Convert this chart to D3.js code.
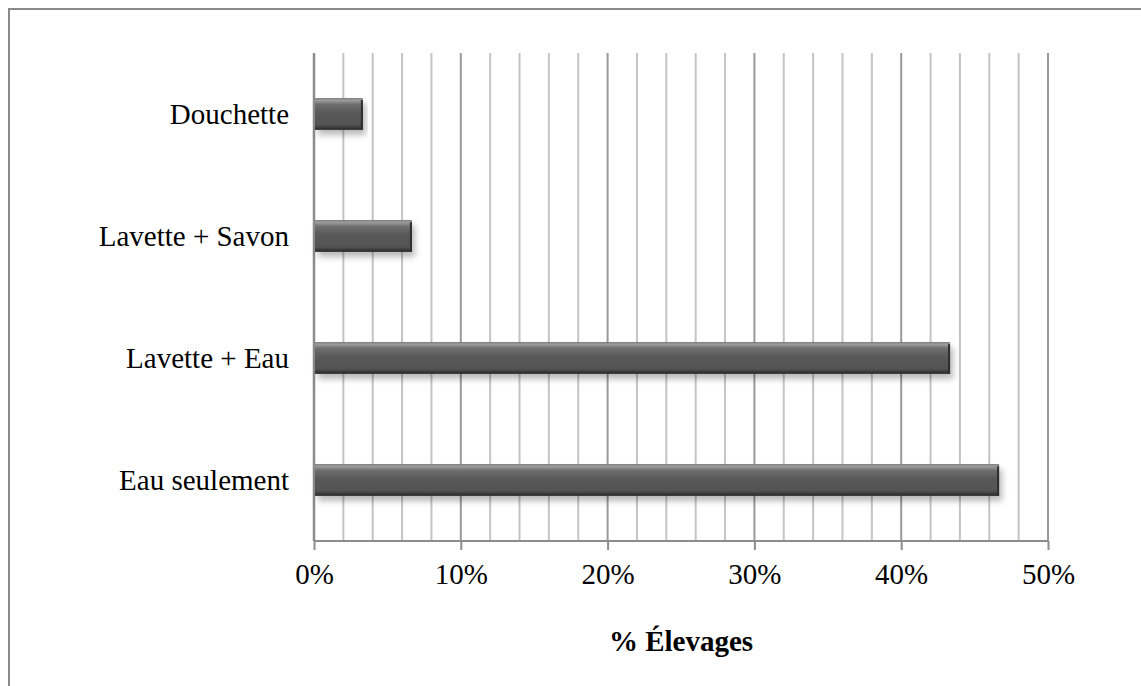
<!DOCTYPE html>
<html>
<head>
<meta charset="utf-8">
<script src="https://cdn.jsdelivr.net/npm/d3@7"></script>
<style>
  html, body { margin: 0; padding: 0; background: #fff; }
  svg { display: block; }
  text { font-family: "Liberation Serif", "Times New Roman", serif; fill: #000; }
</style>
</head>
<body>
<svg id="chart" width="1141" height="686"></svg>
<script>
// Cleaning method used in farms (share of farms, %)
const categories = ["Douchette", "Lavette + Savon", "Lavette + Eau", "Eau seulement"];
const values = [3.33, 6.67, 43.33, 46.67];
const tickValues = [0, 10, 20, 30, 40, 50];
const axisTitle = "% Élevages";

const svg = d3.select("#chart");
const W = 1141, H = 686;
const plot = { left: 314, right: 1048, top: 53, bottom: 541 };
const FONT = '"Liberation Serif", "Times New Roman", serif';

// Frame around the chart (only top and left are inside the page)
svg.append("path")
  .attr("d", `M9,${H + 5} V9 H${W + 5}`)
  .attr("fill", "none")
  .attr("stroke", "#8a8a8a")
  .attr("stroke-width", 2);

const x = d3.scaleLinear().domain([0, 50]).range([plot.left, plot.right]);
const y = d3.scaleBand().domain(categories).range([plot.top, plot.bottom])
  .paddingInner(0.74).paddingOuter(0.37);

const defs = svg.append("defs");
const grad = defs.append("linearGradient").attr("id", "barGrad")
  .attr("x1", 0).attr("y1", 0).attr("x2", 0).attr("y2", 1);
[[0, "#6a6a6a"], [0.06, "#a0a0a0"], [0.2, "#6e6e6e"], [0.45, "#5a5a5a"],
 [0.85, "#525252"], [0.93, "#3a3a3a"], [1, "#262626"]]
  .forEach(([o, c]) => grad.append("stop").attr("offset", o).attr("stop-color", c));

const shadow = defs.append("filter").attr("id", "barShadow")
  .attr("x", "-5%").attr("y", "-30%").attr("width", "115%").attr("height", "190%");
shadow.append("feDropShadow").attr("dx", 3).attr("dy", 5)
  .attr("stdDeviation", 3).attr("flood-color", "#000").attr("flood-opacity", 0.28);

// Vertical grid lines every 2 %
const minor = d3.range(2, 50, 2).filter(v => v % 10 !== 0);
svg.append("g").selectAll("line").data(minor).join("line")
  .attr("x1", d => x(d)).attr("x2", d => x(d))
  .attr("y1", plot.top).attr("y2", plot.bottom)
  .attr("stroke", "#c4c4c4").attr("stroke-width", 2);
svg.append("g").selectAll("line").data(tickValues.slice(1)).join("line")
  .attr("x1", d => x(d)).attr("x2", d => x(d))
  .attr("y1", plot.top).attr("y2", plot.bottom)
  .attr("stroke", "#999").attr("stroke-width", 2);

// Bottom axis
const xAxis = d3.axisBottom(x).tickValues(tickValues)
  .tickFormat(d => d + "%").tickSize(9).tickPadding(13);
const gx = svg.append("g").attr("transform", `translate(0,${plot.bottom})`).call(xAxis);
gx.select(".domain").attr("stroke", "#8c8c8c").attr("stroke-width", 2)
  .attr("d", `M${plot.left},0H${plot.right}`);
gx.selectAll(".tick line").attr("stroke", "#8c8c8c").attr("stroke-width", 2);
gx.selectAll(".tick text")
  .style("font-family", FONT)
  .style("font-size", "29px").attr("fill", "#000");

// Left axis line
svg.append("line")
  .attr("x1", plot.left).attr("x2", plot.left)
  .attr("y1", plot.top).attr("y2", plot.bottom)
  .attr("stroke", "#8c8c8c").attr("stroke-width", 2.5);

// Bars
const bars = svg.append("g");
bars.selectAll("rect").data(categories).join("rect")
  .attr("x", x(0) + 1)
  .attr("y", d => y(d))
  .attr("width", (d, i) => x(values[i]) - x(0) - 1)
  .attr("height", y.bandwidth())
  .attr("fill", "url(#barGrad)")
  .attr("filter", "url(#barShadow)");
// subtle bevel on the bar ends
bars.selectAll("line.end").data(categories).join("line")
  .attr("class", "end")
  .attr("x1", (d, i) => x(values[i]) - 1).attr("x2", (d, i) => x(values[i]) - 1)
  .attr("y1", d => y(d) + 2).attr("y2", d => y(d) + y.bandwidth())
  .attr("stroke", "#2e2e2e").attr("stroke-width", 2);

// Category labels
svg.append("g").selectAll("text").data(categories).join("text")
  .attr("x", plot.left - 25)
  .attr("y", d => y(d) + y.bandwidth() / 2)
  .attr("dy", "0.35em")
  .attr("text-anchor", "end")
  .style("font-family", FONT)
  .style("font-size", "29px")
  .text(d => d);

// Axis title
svg.append("text")
  .attr("x", (plot.left + plot.right) / 2)
  .attr("y", 651)
  .attr("text-anchor", "middle")
  .style("font-family", FONT)
  .style("font-size", "29px")
  .style("font-weight", "bold")
  .text(axisTitle);
</script>
</body>
</html>
